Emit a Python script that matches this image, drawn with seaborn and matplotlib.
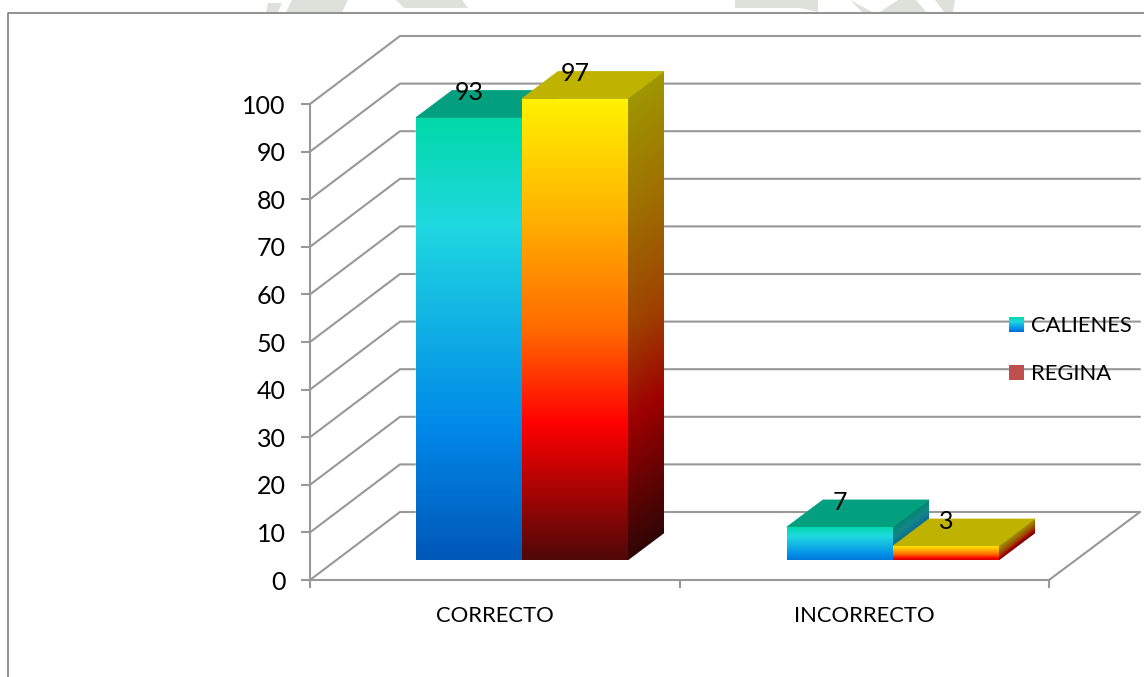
import numpy as np
import pandas as pd
import matplotlib
matplotlib.use("Agg")
import matplotlib.pyplot as plt
import seaborn as sns
from matplotlib.colors import LinearSegmentedColormap
from matplotlib.legend_handler import HandlerBase
from matplotlib.lines import Line2D
from matplotlib.patches import Patch, Polygon, Rectangle

categories = ["CORRECTO", "INCORRECTO"]
series_names = ["CALIENES", "REGINA"]
calienes = [93, 7]
regina = [97, 3]
y_ticks = list(range(0, 101, 10))

W, H = 1144, 677
GRID = "#989898"
FRAME = "#7f7f7f"
FONT = 15.8
DIGITS = 18
LINE = 1.5
sns.set_theme(style="white")
plt.rcParams["font.family"] = ["Lato", "DejaVu Sans"]

blue_ramp = LinearSegmentedColormap.from_list(
    "blue_ramp",
    [(0, "#00d9a8"), (0.245, "#20d8e0"), (0.705, "#0088e8"), (1, "#0058b8")],
)
warm_ramp = LinearSegmentedColormap.from_list(
    "warm_ramp",
    [(0, "#fff200"), (0.25, "#ffb400"), (0.5, "#ff6a00"), (0.705, "#ff0000"), (1, "#500808")],
)
ramps = {"CALIENES": blue_ramp, "REGINA": warm_ramp}
top_faces = {"CALIENES": "#03a080", "REGINA": "#bfb300"}
SIDE_SHADE = 0.62


def px_axes(left, right, bottom, top):
    return [left / W, 1 - bottom / H, (right - left) / W, (bottom - top) / H]


fig = plt.figure(figsize=(W / 100, H / 100), dpi=100, facecolor="white")

# Faint crest printed behind the page, cut off by the top of the frame
for pts in [
    [(268, 3), (282, 3), (278, 12), (266, 12)],
    [(292, 0), (348, 0), (342, 12), (286, 12)],
    [(396, 0), (462, 0), (468, 8), (404, 8)],
    [(735, 0), (818, 0), (818, 12), (800, 8), (735, 8)],
    [(850, 0), (872, 12), (862, 12)],
    [(880, 12), (898, 0), (916, 0), (926, 12)],
    [(935, 0), (955, 0), (953, 12), (944, 12)],
]:
    fig.add_artist(Polygon([(x / W, 1 - y / H) for x, y in pts], closed=True,
                           facecolor="#dde1da", edgecolor="none", transform=fig.transFigure))

# Outer frame: only its top and left edges fall inside the image
fig.add_artist(Line2D([1, 8 / W, 8 / W], [1 - 13 / H, 1 - 13 / H, 0], color=FRAME, lw=1.2,
                      transform=fig.transFigure))

# Front plane of the chart: value axis and category axis
ax = fig.add_axes(px_axes(310, 1049, 580, 104))
ax.set_facecolor("none")
ax.set_xlim(0, 2)
ax.set_ylim(0, 100)
for name in ("top", "right"):
    ax.spines[name].set_visible(False)
for name in ("left", "bottom"):
    ax.spines[name].set_color(GRID)
    ax.spines[name].set_linewidth(LINE)
ax.set_yticks(y_ticks)
ax.set_xticks([0, 1, 2], labels=[])
ax.set_xticks([0.5, 1.5], labels=categories, minor=True)
ax.tick_params(axis="y", which="major", left=True, length=6.5, width=LINE, color=GRID,
               pad=11, labelsize=DIGITS, labelcolor="black")
ax.tick_params(axis="x", which="major", bottom=True, length=6, width=LINE, color=GRID)
ax.tick_params(axis="x", which="minor", bottom=False, length=0, pad=18.5, labelsize=FONT,
               labelcolor="black")

# Side wall, back wall and floor, receding from the front plane
wall_dx = 2 * 90 / 739
wall_dy = 68 / 4.76
wall_end = 2 * 830 / 739
for v in y_ticks:
    ax.plot([0, wall_dx, wall_end], [v, v + wall_dy, v + wall_dy], color=GRID, lw=LINE,
            clip_on=False, zorder=1, solid_joinstyle="miter")
ax.plot([2, wall_end], [0, wall_dy], color=GRID, lw=LINE, clip_on=False, zorder=1)

# Bars live on their own axes, set back from the front plane by half the wall depth
ax_bars = fig.add_axes(px_axes(310, 1140, 560.3, 560.3 - 110 * 4.76))
ax_bars.set_zorder(ax.get_zorder() + 1)
frame = pd.DataFrame({
    "categoria": categories * 2,
    "serie": [series_names[0]] * 2 + [series_names[1]] * 2,
    "valor": calienes + regina,
})
sns.barplot(data=frame, x="categoria", y="valor", hue="serie", order=categories,
            hue_order=series_names, width=212 / 371, gap=0, legend=False, ax=ax_bars,
            err_kws={"linewidth": 0})
ax_bars.set_xlim((310 - 522) / 371, (1140 - 522) / 371)
ax_bars.set_ylim(0, 110)
ax_bars.axis("off")

bar_dx = 36 / 371
bar_dy = 27 / 4.76


def ramp_rgb(name, t, value, shade=1.0):
    # Short bars only run through the upper part of the ramp
    span = 0.8 if value < 50 else 1.0
    rgba = ramps[name](np.clip(t, 0, 1) * span)
    return np.clip(rgba[..., :3] * shade, 0, 1)


z = 3
for c in range(len(categories)):
    for name, container in zip(series_names, ax_bars.containers):
        rect = container[c]
        x0, x1 = rect.get_x(), rect.get_x() + rect.get_width()
        top = rect.get_height()
        rect.set_facecolor("none")

        # Top face, slightly overdrawn so nothing behind shows along the shared edge
        ax_bars.add_patch(Polygon([(x0, top), (x1, top), (x1 + bar_dx, top + bar_dy),
                                   (x0 + bar_dx, top + bar_dy)], closed=True,
                                  facecolor=top_faces[name], edgecolor=top_faces[name],
                                  linewidth=0.6, zorder=z))

        # Front face
        front_t = np.linspace(0, 1, 256)[:, None]
        front_rgb = ramp_rgb(name, front_t, top)
        clip = Rectangle((x0, 0), x1 - x0, top, transform=ax_bars.transData)
        img = ax_bars.imshow(front_rgb, extent=(x0, x1, 0, top), aspect="auto", zorder=z,
                             interpolation="bilinear", origin="upper")
        img.set_clip_path(clip)

        # Right face: the ramp follows the face back in depth
        u = np.linspace(0, 1, 40)
        y = np.linspace(top + bar_dy, 0, 256)
        uu, yy = np.meshgrid(u, y)
        side_rgb = ramp_rgb(name, (top + uu * bar_dy - yy) / top, top, SIDE_SHADE)
        side = Polygon([(x1, 0), (x1 + bar_dx, bar_dy), (x1 + bar_dx, top + bar_dy), (x1, top)],
                       closed=True, transform=ax_bars.transData)
        img = ax_bars.imshow(side_rgb, extent=(x1, x1 + bar_dx, 0, top + bar_dy), aspect="auto",
                             zorder=z, interpolation="bilinear", origin="upper")
        img.set_clip_path(side)
        z += 1

        ax_bars.annotate(f"{top:g}", xy=((x0 + x1) / 2, top), xytext=(0, 17.8),
                         textcoords="offset points", ha="center", va="center",
                         fontsize=DIGITS, color="black", zorder=50, annotation_clip=False)

ax_bars.set_xlim((310 - 522) / 371, (1140 - 522) / 371)
ax_bars.set_ylim(0, 110)


class GradientSwatch(HandlerBase):
    def __init__(self, ramp):
        super().__init__()
        self.ramp = ramp

    def create_artists(self, legend, orig_handle, xdescent, ydescent, width, height,
                       fontsize, trans):
        steps = 15
        return [
            Rectangle((-xdescent, -ydescent + height * (steps - 1 - i) / steps), width,
                      height / steps + 0.2, facecolor=self.ramp(i / (steps - 1) * 0.85),
                      edgecolor="none", transform=trans)
            for i in range(steps)
        ]


handles = [Patch(label=series_names[0]), Patch(facecolor="#c0504d", edgecolor="none",
                                               label=series_names[1])]
fig.legend(handles=handles, loc="upper left", bbox_to_anchor=(1009 / W, 1 - 316.5 / H),
           frameon=False, fontsize=FONT, borderpad=0, borderaxespad=0,
           handlelength=15 * 0.72 / FONT, handleheight=15 * 0.72 / FONT,
           handletextpad=7 * 0.72 / FONT, labelspacing=1.25, labelcolor="black",
           handler_map={handles[0]: GradientSwatch(blue_ramp)})

fig.savefig("out.png", dpi=100)
